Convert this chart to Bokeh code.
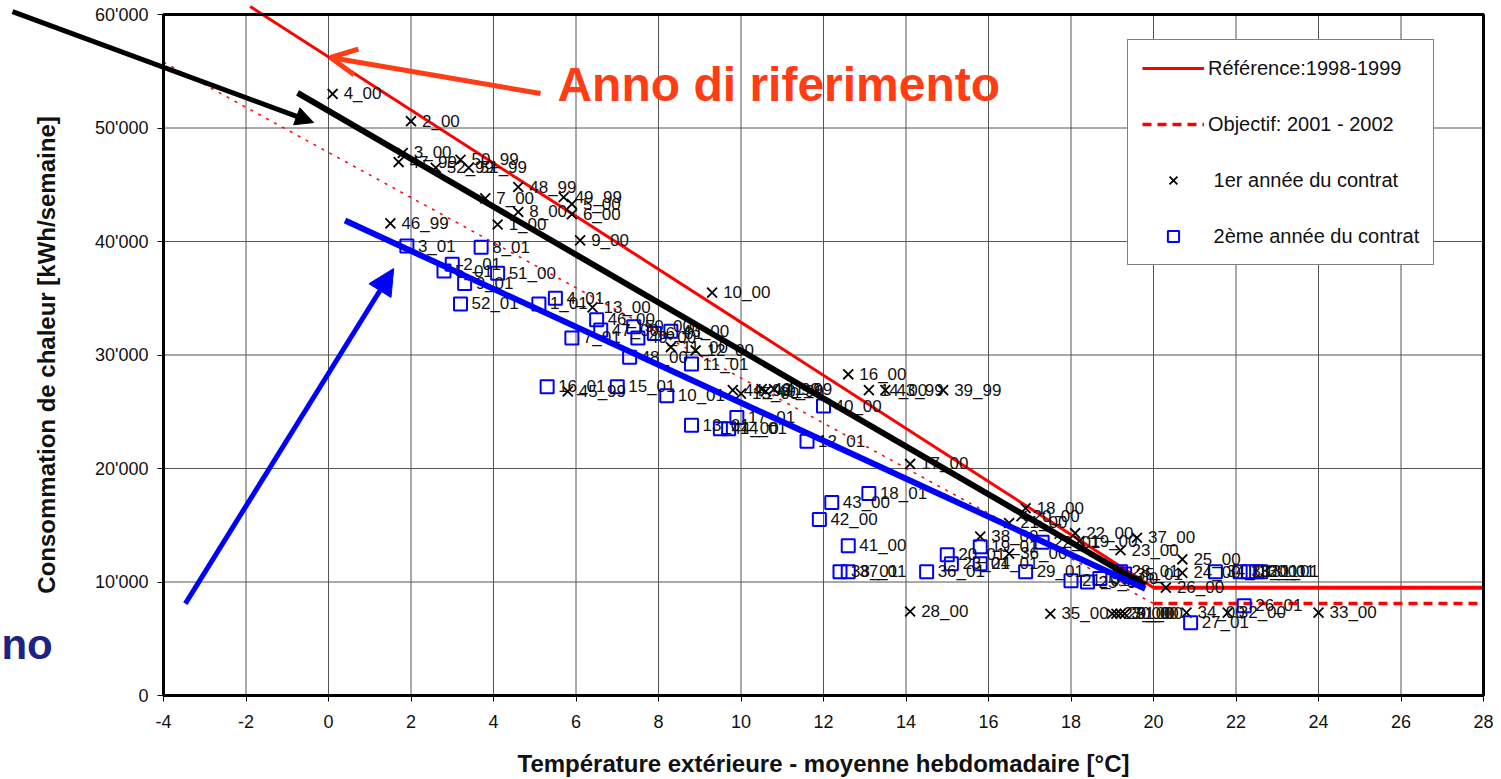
from bokeh.plotting import figure
from bokeh.models import (Range1d, FixedTicker, Legend, LegendItem, Arrow,
                          NormalHead, OpenHead, Label, ColumnDataSource)
from bokeh.core.properties import value
from bokeh.embed import file_html
from bokeh.resources import INLINE

FONT = "Liberation Sans"

# ---- weekly measurements, 1st contract year (weeks 39_99 .. 38_00) ----
yr1_week = ["39_99", "40_99", "41_99", "42_99", "43_99", "44_99", "45_99",
            "46_99", "47_99", "48_99", "49_99", "50_99", "51_99", "52_99",
            "1_00", "2_00", "3_00", "4_00", "5_00", "6_00", "7_00", "8_00",
            "9_00", "10_00", "11_00", "12_00", "13_00", "14_00", "15_00",
            "16_00", "17_00", "18_00", "19_00", "20_00", "21_00", "22_00",
            "23_00", "24_00", "25_00", "26_00", "27_00", "28_00", "29_00",
            "30_00", "31_00", "32_00", "33_00", "34_00", "35_00", "36_00",
            "37_00", "38_00"]
yr1_temp = [14.9, 10.6, 10.8, 10.5, 13.5, 9.8, 5.8,
            1.5, 1.7, 4.6, 5.7, 3.2, 3.4, 2.6,
            4.1, 2.0, 1.8, 0.1, 5.9, 5.9, 3.8, 4.6,
            6.1, 9.3, 8.3, 8.9, 6.4, 13.1, 10.0,
            12.6, 14.1, 16.9, 18.2, 16.8, 16.5, 18.1,
            19.2, 20.7, 20.7, 20.3, 19.0, 14.1, 19.1,
            19.2, 19.3, 21.8, 24.0, 20.8, 17.5, 16.5,
            19.6, 15.8]
yr1_cons = [26900, 26800, 27000, 27000, 26900, 26900, 26800,
            41600, 47000, 44800, 43900, 47200, 46500, 46500,
            41500, 50600, 47800, 53000, 43300, 42400, 43800, 42600,
            40100, 35500, 30700, 30400, 34200, 26900, 26600,
            28300, 20400, 16500, 13600, 15800, 15200, 14300,
            12800, 10800, 12000, 9500, 7200, 7400, 7200,
            7200, 7200, 7300, 7300, 7300, 7200, 12500,
            13900, 14000]

# ---- weekly measurements, 2nd contract year (weeks 39_00 .. 38_01) ----
yr2_week = ["39_00", "40_00", "41_00", "42_00", "43_00", "44_00", "45_00",
            "46_00", "47_00", "48_00", "49_00", "50_00", "51_00", "52_01",
            "1_01", "2_01", "3_01", "4_01", "5_01", "6_01", "7_01", "8_01",
            "9_01", "10_01", "11_01", "12_01", "13_01", "14_01", "15_01",
            "16_01", "17_01", "18_01", "19_01", "20_01", "21_01", "22_01",
            "23_01", "24_01", "25_01", "26_01", "27_01", "28_01", "29_01",
            "30_01", "31_01", "32_01", "33_01", "34_01", "35_01", "36_01",
            "37_01", "38_01"]
yr2_temp = [18.7, 12.0, 12.6, 11.9, 12.2, 9.5, 8.3,
            6.5, 6.6, 7.3, 7.5, 7.4, 4.1, 3.2,
            5.1, 3.0, 1.9, 5.5, 2.8, 7.9, 5.9, 3.7,
            3.3, 8.2, 8.8, 11.6, 8.8, 9.7, 7.0,
            5.3, 9.9, 13.1, 15.8, 15.0, 18.0, 17.3,
            15.1, 15.8, 18.4, 22.2, 20.9, 19.2, 16.9,
            22.5, 22.6, 22.3, 22.1, 21.5, 19.3, 14.5,
            12.6, 12.4]
yr2_cons = [10300, 25500, 13200, 15500, 17000, 23500, 32100,
            33100, 32200, 29800, 31500, 32500, 37200, 34500,
            34500, 38000, 39600, 35000, 37400, 31900, 31500, 39500,
            36300, 26400, 29200, 22400, 23800, 23500, 27200,
            27200, 24500, 17800, 13100, 12400, 10100, 13500,
            11600, 11600, 10000, 7900, 6400, 10900, 10900,
            10900, 10900, 10900, 10900, 10900, 10700, 10900,
            10900, 10900]

# ---- signature lines: reference year and target ----
ref_temp = [-1.9, 20, 28]
ref_cons = [60700, 9500, 9500]
obj_temp = [-4, 20, 28]
obj_cons = [55800, 8100, 8100]

# ---- hand-drawn trend lines for the two contract years ----
trend1_temp = [-0.75, 19.8]
trend1_cons = [53100, 9700]
trend2_temp = [0.4, 19.8]
trend2_cons = [41850, 9400]

# ---- call-out arrows (start x, start y, end x, end y) ----
arrow_black = [-7.66, 60260, -0.36, 50480]
arrow_red = [5.14, 53040, 0.05, 56210]
arrow_blue = [-3.47, 8100, 1.58, 37620]
callout_text = "Anno di riferimento"
callout_pos = [5.55, 53830]
side_text = "no"
side_pos = [-7.93, 4500]

# ---- axes ----
x_min, x_max = -4, 28
y_min, y_max = 0, 60000
x_ticks = [-4, -2, 0, 2, 4, 6, 8, 10, 12, 14, 16, 18, 20, 22, 24, 26, 28]
x_tick_labels = ["-4", "-2", "0", "2", "4", "6", "8", "10", "12", "14", "16",
                 "18", "20", "22", "24", "26", "28"]
y_ticks = [0, 10000, 20000, 30000, 40000, 50000, 60000]
y_tick_labels = ["0", "10'000", "20'000", "30'000", "40'000", "50'000", "60'000"]
x_title = "Température extérieure - moyenne hebdomadaire [°C]"
y_title = "Consommation de chaleur [kWh/semaine]"

# The frame spans the whole canvas so that the call-outs can run past the
# chart box; the axes are pinned to the box edges with fixed_location.
W, H = 1501, 779
box_left, box_right, box_top, box_bottom = 163, 1483, 14, 695
px_x = (box_right - box_left) / (x_max - x_min)
px_y = (box_bottom - box_top) / (y_max - y_min)
xr = Range1d(x_min - box_left / px_x, x_max + (W - box_right) / px_x)
yr = Range1d(y_min - (H - box_bottom) / px_y, y_max + box_top / px_y)

p = figure(width=W, height=H, output_backend="svg", toolbar_location=None,
           x_range=xr, y_range=yr,
           min_border_left=0, min_border_right=0,
           min_border_top=0, min_border_bottom=0)
p.background_fill_color = "white"
p.border_fill_color = "white"
p.outline_line_color = None
p.grid.visible = False

p.xaxis.fixed_location = y_min
p.yaxis.fixed_location = x_min
p.xaxis.bounds = (x_min, x_max)
p.yaxis.bounds = (y_min, y_max)
p.xaxis.ticker = FixedTicker(ticks=x_ticks)
p.yaxis.ticker = FixedTicker(ticks=y_ticks)
p.xaxis.major_label_overrides = {t: s for t, s in zip(x_ticks, x_tick_labels)}
p.yaxis.major_label_overrides = {t: s for t, s in zip(y_ticks, y_tick_labels)}
for ax in (p.xaxis, p.yaxis):
    ax.axis_line_color = "black"
    ax.axis_line_width = 3
    ax.major_tick_in = 0
    ax.major_tick_out = 6
    ax.major_tick_line_color = "black"
    ax.minor_tick_line_color = None
    ax.major_label_text_font = FONT
    ax.major_label_text_font_size = "18px"
    ax.major_label_text_color = "#111111"
    ax.axis_label_text_font = FONT
    ax.axis_label_text_font_size = "24px"
    ax.axis_label_text_font_style = "bold"
    ax.axis_label_text_color = "#111111"
p.xaxis.axis_label = x_title
p.yaxis.axis_label = y_title
p.xaxis.major_label_standoff = 13
p.xaxis.axis_label_standoff = 19
p.yaxis.major_label_standoff = 9
p.yaxis.axis_label_standoff = 32

# grid lines inside the chart box
p.segment(x0=x_ticks, y0=[y_min] * len(x_ticks), x1=x_ticks, y1=[y_max] * len(x_ticks),
          line_color="#555555", line_width=1)
p.segment(x0=[x_min] * len(y_ticks), y0=y_ticks, x1=[x_max] * len(y_ticks), y1=y_ticks,
          line_color="#555555", line_width=1)

# reference (1998-1999) and target (2001-2002) signatures
ref_diag = p.line(ref_temp[:2], ref_cons[:2], line_color="#ff0000", line_width=3)
p.line(ref_temp[1:], ref_cons[1:], line_color="#ff0000", line_width=4)
p.line(obj_temp[:2], obj_cons[:2], line_color="#ff0000", line_width=1.5,
       line_dash="3 6")
obj_flat = p.line(obj_temp[1:], obj_cons[1:], line_color="#ff0000", line_width=3.5,
                  line_dash="9 6")

# weekly points with their week labels
src1 = ColumnDataSource(dict(t=yr1_temp, c=yr1_cons, w=yr1_week))
src2 = ColumnDataSource(dict(t=yr2_temp, c=yr2_cons, w=yr2_week))
pts1 = p.scatter("t", "c", source=src1, marker="x", size=14, line_color="black",
                 line_width=1.8)
pts2 = p.scatter("t", "c", source=src2, marker="square", size=13, line_color="#0000ff",
                 line_width=2, fill_alpha=0)
for src in (src1, src2):
    p.text("t", "c", text="w", source=src, x_offset=11, text_baseline="middle",
           text_font=value(FONT), text_font_size="17px", text_color="#111111")

# trend lines drawn over the points
p.line(trend1_temp, trend1_cons, line_color="black", line_width=6)
p.line(trend2_temp, trend2_cons, line_color="#0000ff", line_width=6)

# chart box border
p.quad(left=[x_min], right=[x_max], bottom=[y_min], top=[y_max],
       fill_alpha=0, line_color="black", line_width=3)

# call-outs
p.add_layout(Arrow(x_start=arrow_black[0], y_start=arrow_black[1],
                   x_end=arrow_black[2], y_end=arrow_black[3],
                   line_color="black", line_width=5,
                   end=NormalHead(size=18, fill_color="black", line_color="black")))
p.add_layout(Arrow(x_start=arrow_red[0], y_start=arrow_red[1],
                   x_end=arrow_red[2], y_end=arrow_red[3],
                   line_color="#ff3c14", line_width=5,
                   end=OpenHead(size=26, line_color="#ff3c14", line_width=5)))
p.add_layout(Arrow(x_start=arrow_blue[0], y_start=arrow_blue[1],
                   x_end=arrow_blue[2], y_end=arrow_blue[3],
                   line_color="#0000ff", line_width=5,
                   end=NormalHead(size=26, fill_color="#0000ff", line_color="#0000ff")))
p.add_layout(Label(x=callout_pos[0], y=callout_pos[1], text=callout_text,
                   text_font=FONT, text_font_size="48px", text_font_style="bold",
                   text_color="#ff3c14", text_baseline="middle"))
p.add_layout(Label(x=side_pos[0], y=side_pos[1], text=side_text,
                   text_font=FONT, text_font_size="42px", text_font_style="bold",
                   text_color="#1c2388", text_baseline="middle"))

legend = Legend(items=[
    LegendItem(label="Référence:1998-1999", renderers=[ref_diag]),
    LegendItem(label="Objectif: 2001 - 2002", renderers=[obj_flat]),
    LegendItem(label="\u00a01er année du contrat", renderers=[pts1]),
    LegendItem(label="\u00a02ème année du contrat", renderers=[pts2]),
], location=(1127, H - 265))
legend.label_text_font = FONT
legend.label_text_font_size = "20px"
legend.label_text_color = "#111111"
legend.glyph_width = 62
legend.glyph_height = 28
legend.label_height = 28
legend.label_standoff = 4
legend.spacing = 28
legend.padding = 14
legend.margin = 0
legend.border_line_color = "black"
legend.border_line_width = 1
legend.background_fill_color = "white"
legend.background_fill_alpha = 1
p.add_layout(legend)

open("out.html", "w").write(file_html(p, INLINE))
